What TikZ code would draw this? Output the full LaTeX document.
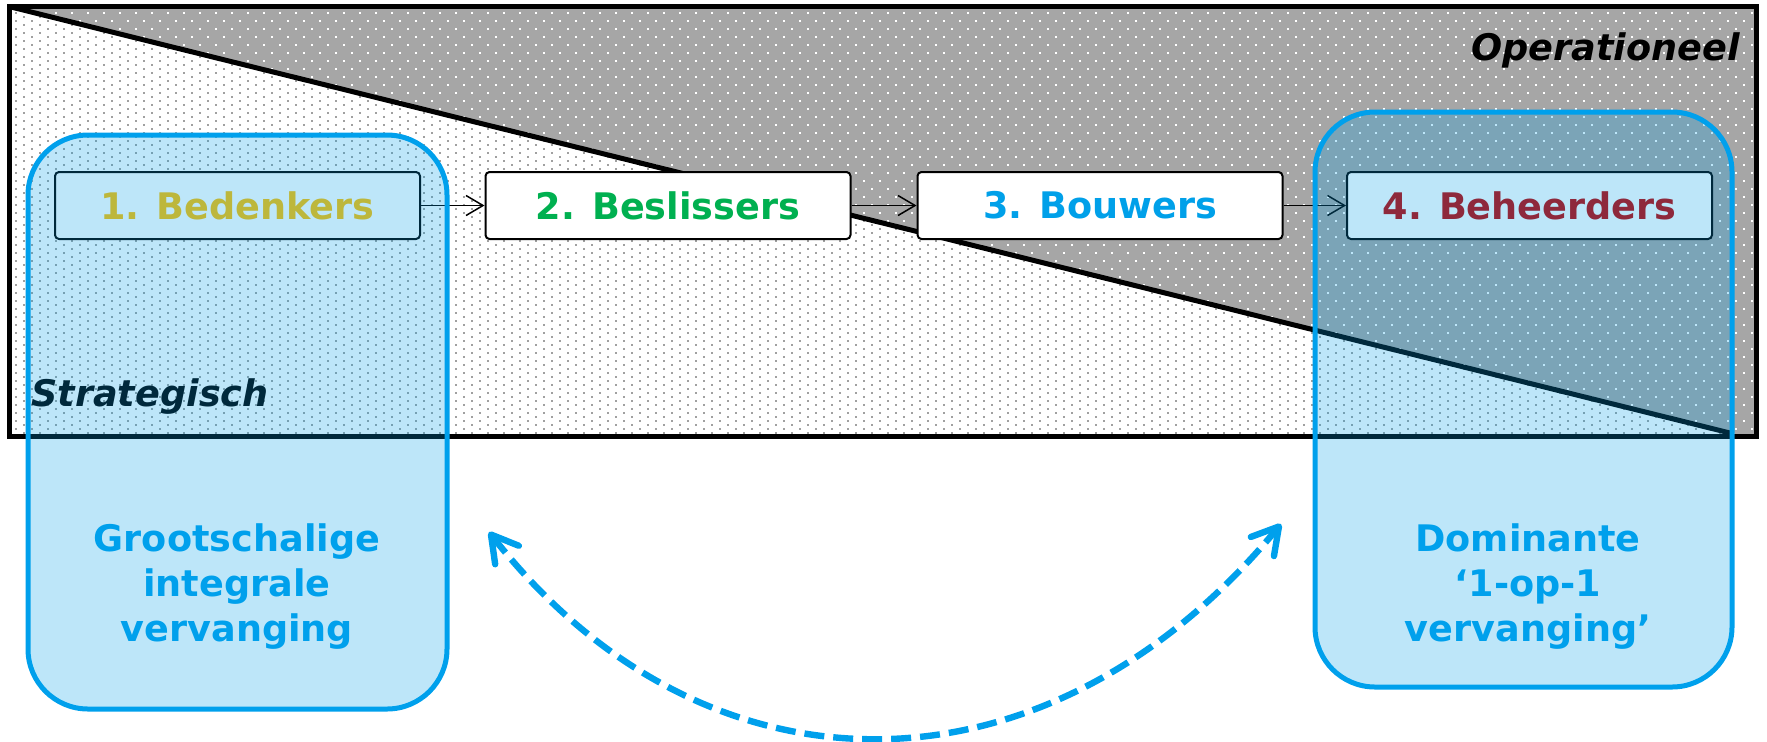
\documentclass[tikz,border=0pt]{standalone}
\usepackage{fontspec}
\setmainfont{DejaVu Sans}
\usetikzlibrary{arrows.meta,patterns}
\pgfdeclarepatternformonly{lightdots}{\pgfqpoint{-1pt}{-1pt}}{\pgfqpoint{7pt}{3pt}}{\pgfqpoint{8pt}{4pt}}{%
  \pgfpathrectangle{\pgfqpoint{-0.42pt}{-0.42pt}}{\pgfqpoint{0.84pt}{0.84pt}}%
  \pgfpathrectangle{\pgfqpoint{3.58pt}{1.58pt}}{\pgfqpoint{0.84pt}{0.84pt}}%
  \pgfusepath{fill}}
\pgfdeclarepatternformonly{darkdots}{\pgfqpoint{-1pt}{-1pt}}{\pgfqpoint{7pt}{7pt}}{\pgfqpoint{8pt}{8pt}}{%
  \pgfpathrectangle{\pgfqpoint{-0.42pt}{-0.42pt}}{\pgfqpoint{0.84pt}{0.84pt}}%
  \pgfpathrectangle{\pgfqpoint{3.58pt}{3.58pt}}{\pgfqpoint{0.84pt}{0.84pt}}%
  \pgfusepath{fill}}
\definecolor{ovblue}{RGB}{0,160,233}
\definecolor{lineblue}{RGB}{0,160,236}
\definecolor{grayfill}{RGB}{166,166,166}
\definecolor{dotgray}{RGB}{160,160,160}
\definecolor{goldtext}{RGB}{255,192,0}
\definecolor{greentext}{RGB}{0,176,80}
\definecolor{redtext}{RGB}{192,0,0}
\tikzset{
  lbl/.style={font=\fontsize{18.3}{22.5}\selectfont\bfseries, inner sep=0pt},
  stagebox/.style={lbl, draw=black, line width=1pt, fill=white, rounded corners=2pt,
    minimum width=182.5pt, minimum height=33.5pt},
  flow/.style={-{Straight Barb[length=8.5pt,width=10pt]}, line width=0.75pt, black},
  panel/.style={draw=lineblue, line width=2.5pt, fill=ovblue, fill opacity=0.26, rounded corners=30pt},
  exchange/.style={lineblue, line width=3.2pt, dash pattern=on 10pt off 4.5pt,
    {Straight Barb[length=13pt,width=15pt,round]}-{Straight Barb[length=13pt,width=15pt,round]}},
  dotsw/.style={pattern=lightdots, pattern color=dotgray},
  dotsg/.style={pattern=darkdots, pattern color=white},
}
\begin{document}
\begin{tikzpicture}[x=0.5pt,y=-0.5pt]
\useasboundingbox (0,0) rectangle (1767,741);
% background field
\fill[white] (9,6.5) rectangle (1756.5,436.5);
\fill[dotsw] (9,6.5) rectangle (1756.5,436.5);
\fill[grayfill] (9,6.5) -- (1756.5,6.5) -- (1756.5,436.5) -- (1730,433) -- cycle;
\fill[dotsg] (9,6.5) -- (1756.5,6.5) -- (1756.5,436.5) -- (1730,433) -- cycle;
\draw[line width=2.5pt] (9,6.5) -- (1730,433);
\draw[line width=2.5pt] (9,6.5) rectangle (1756.5,436.5);
% corner labels
\node[lbl, anchor=base east] (op) at (1740,60) {\itshape Operationeel};
\node[lbl, anchor=base west] (st) at (31,406) {\itshape Strategisch};
% stages
\node[stagebox, text=goldtext] (b1) at (237.5,205.5) {1. Bedenkers};
\node[stagebox, text=greentext] (b2) at (668,205.5) {2. Beslissers};
\node[stagebox, text=ovblue] (b3) at (1100,205.5) {3. Bouwers};
\node[stagebox, text=redtext] (b4) at (1529.5,205.5) {4. Beheerders};
\draw[flow] (b1.east) -- (b2.west);
\draw[flow] (b2.east) -- (b3.west);
\draw[flow] (b3.east) -- (b4.west);
% translucent panels
\draw[panel] (28,135) rectangle (447,709);
\draw[panel] (1315,112) rectangle (1732,687);
\node[lbl, text=lineblue, align=center] (gi) at (237,587) {Grootschalige\\integrale\\vervanging};
\node[lbl, text=lineblue, align=center] (dm) at (1528,587) {Dominante\\‘1-op-1\\vervanging’};
% exchange arrow
\coordinate (aL) at (489,532);
\coordinate (aR) at (1281,524);
\draw[exchange] (aL) .. controls (705,808) and (1046,808) .. (aR);
\end{tikzpicture}
\end{document}
